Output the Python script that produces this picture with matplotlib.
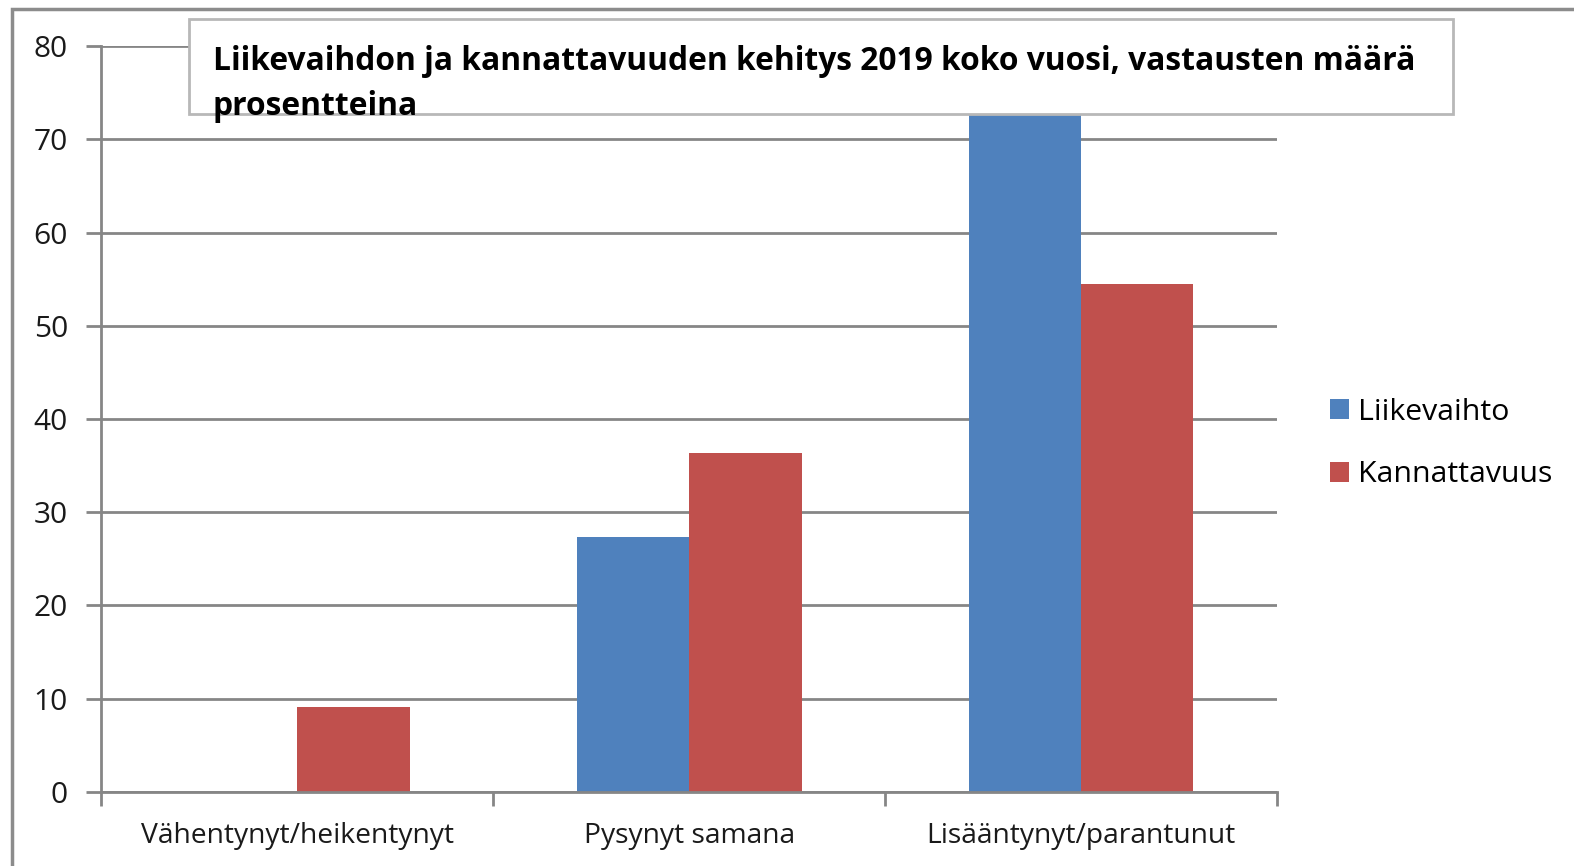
import matplotlib
matplotlib.use("Agg")
import matplotlib.pyplot as plt
from matplotlib.patches import Rectangle
import numpy as np

categories = ["Vähentynyt/heikentynyt", "Pysynyt samana", "Lisääntynyt/parantunut"]
series_names = ["Liikevaihto", "Kannattavuus"]
liikevaihto = [0.0, 27.3, 72.7]
kannattavuus = [9.1, 36.4, 54.5]
yticks = [0, 10, 20, 30, 40, 50, 60, 70, 80]
title = "Liikevaihdon ja kannattavuuden kehitys 2019 koko vuosi, vastausten määrä\nprosentteina"

colors = ["#4F81BD", "#C0504D"]
grid_c = "#868686"

plt.rcParams['font.family'] = ['Open Sans', 'DejaVu Sans']

W, H = 1574, 866
fig = plt.figure(figsize=(W / 100, H / 100), dpi=100)
fig.patch.set_facecolor("white")

# outer frame
fig.add_artist(Rectangle((12 / W, -0.05), 1.2, (H - 9) / H + 0.05, transform=fig.transFigure,
                         fill=False, edgecolor="#8c8c8c", linewidth=2.5, zorder=0))

ax_l, ax_r, ax_t, ax_b = 101.4, 1276.9, 46.2, 791.8
ax = fig.add_axes([ax_l / W, (H - ax_b) / H, (ax_r - ax_l) / W, (ax_b - ax_t) / H])
x = np.arange(len(categories))
bw = 0.287
ax.bar(x - bw / 2, liikevaihto, bw, color=colors[0], label=series_names[0], zorder=3)
ax.bar(x + bw / 2, kannattavuus, bw, color=colors[1], label=series_names[1], zorder=3)

ax.set_xlim(-0.5, 2.5)
ax.set_ylim(0, 80)
ax.set_yticks(yticks)
ax.set_yticklabels([str(v) for v in yticks], fontsize=21.5, color="#1a1a1a")
ax.yaxis.grid(True, color=grid_c, linewidth=2, zorder=0)
ax.set_axisbelow(True)
ax.set_xticks(x)
ax.set_xticklabels(categories, fontsize=20.3, color="#1a1a1a")
ax.set_xticks([-0.5, 0.5, 1.5, 2.5], minor=True)
ax.tick_params(axis="x", which="major", length=0, pad=22)
ax.tick_params(axis="x", which="minor", length=10, width=2, color=grid_c, direction="out")
ax.tick_params(axis="y", length=11, width=2, color=grid_c, pad=13)
for s in ["top", "right"]:
    ax.spines[s].set_visible(False)
for s in ["left", "bottom"]:
    ax.spines[s].set_color(grid_c)
    ax.spines[s].set_linewidth(2)
ax.spines["bottom"].set_zorder(4)

leg = ax.legend(loc="center left", bbox_to_anchor=(1330 / W, (H - 443.5) / H), bbox_transform=fig.transFigure,
                frameon=False, fontsize=21.8, handlelength=0.62, handleheight=0.62, handletextpad=0.3,
                labelspacing=1.12, borderaxespad=0, borderpad=0)

# title box
fig.add_artist(Rectangle((188.7 / W, (H - 114.4) / H), (1452.5 - 188.7) / W, (114.4 - 19.1) / H,
                         transform=fig.transFigure,
                         facecolor="white", edgecolor="#b8b8b8", linewidth=2, zorder=5))
fig.text(212.8 / W, (H - 84) / H, title, transform=fig.transFigure, fontsize=22.9, fontweight="bold",
         va="center", ha="left", linespacing=1.5, zorder=6, color="black")
fig.savefig("out.png", dpi=100)
